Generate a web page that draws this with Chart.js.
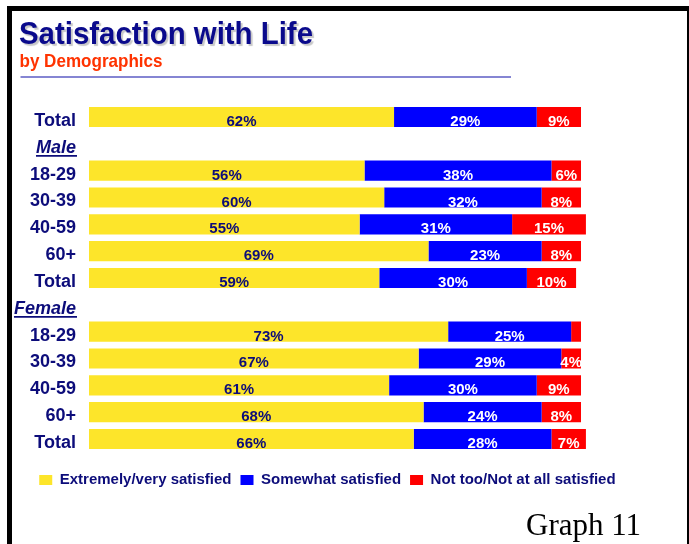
<!DOCTYPE html>
<html>
<head>
<meta charset="utf-8">
<script src="https://cdn.jsdelivr.net/npm/chart.js@4/dist/chart.umd.min.js"></script>
<style>
    html, body { margin: 0; padding: 0; background: #fff; }
    #wrap { position: relative; width: 689px; height: 544px; }
</style>
</head>
<body>
<div id="wrap"><canvas id="lifeChart"></canvas></div>
<script>
// Satisfaction with Life by demographics (percent)
const rowLabels = ['Total', 'Male', '18-29', '30-39', '40-59', '60+', 'Total', 'Female', '18-29', '30-39', '40-59', '60+', 'Total'];
const groupRows = [1, 7];
const verySatisfied = [62, null, 56, 60, 55, 69, 59, null, 73, 67, 61, 68, 66];
const somewhatSatisfied = [29, null, 38, 32, 31, 23, 30, null, 25, 29, 30, 24, 28];
const notSatisfied = [9, null, 6, 8, 15, 8, 10, null, 2, 4, 9, 8, 7];
const seriesNames = ['Extremely/very satisfied', 'Somewhat satisfied', 'Not too/Not at all satisfied'];

const NAVY = '#0c0c7a';
const SANS = "'Liberation Sans', Arial, sans-serif";
Chart.defaults.font.family = SANS;

// frame, heading, rule and footer text
const decorPlugin = {
    id: 'decor',
    beforeDraw(chart) {
        const ctx = chart.ctx;
        ctx.save();
        ctx.fillStyle = '#fff';
        ctx.fillRect(0, 0, chart.width, chart.height);
        ctx.fillStyle = '#000';
        ctx.fillRect(7, 6, 5, chart.height - 6);
        ctx.fillRect(7, 6, chart.width - 7, 5);
        ctx.fillRect(687, 6, 2, chart.height - 6);

        ctx.textAlign = 'left';
        ctx.textBaseline = 'alphabetic';
        ctx.shadowColor = 'rgba(0,0,0,0.22)';
        ctx.shadowOffsetX = 2;
        ctx.shadowOffsetY = 2;
        ctx.shadowBlur = 1;
        ctx.fillStyle = '#0a0a8c';
        ctx.font = 'bold 32px ' + SANS;
        ctx.fillText('Satisfaction with Life', 19, 43.5, 294);
        ctx.shadowColor = 'transparent';
        ctx.fillStyle = '#ff3300';
        ctx.font = 'bold 18.5px ' + SANS;
        ctx.fillText('by Demographics', 19.5, 66.5, 143);

        ctx.strokeStyle = '#8585d3';
        ctx.lineWidth = 2;
        ctx.beginPath();
        ctx.moveTo(20.5, 77);
        ctx.lineTo(511, 77);
        ctx.stroke();

        ctx.fillStyle = '#000';
        ctx.font = "31px 'Liberation Serif', 'Times New Roman', serif";
        ctx.fillText('Graph 11', 526, 535);
        ctx.restore();
    },
    afterDraw(chart) {
        // underline the group headings
        const ctx = chart.ctx;
        const yScale = chart.scales.y;
        ctx.save();
        ctx.font = 'italic bold 18px ' + SANS;
        ctx.strokeStyle = NAVY;
        ctx.lineWidth = 1.6;
        groupRows.forEach(i => {
            const w = ctx.measureText(rowLabels[i]).width;
            const y = yScale.getPixelForTick(i) + 12;
            ctx.beginPath();
            ctx.moveTo(76 - w, y);
            ctx.lineTo(77, y);
            ctx.stroke();
        });
        ctx.restore();
    }
};

// percentage labels in the middle of each segment
const valueLabels = {
    id: 'valueLabels',
    afterDatasetsDraw(chart) {
        const ctx = chart.ctx;
        ctx.save();
        ctx.font = 'bold 15px ' + SANS;
        ctx.textAlign = 'center';
        ctx.textBaseline = 'alphabetic';
        chart.data.datasets.forEach((ds, di) => {
            const meta = chart.getDatasetMeta(di);
            ctx.fillStyle = di === 0 ? NAVY : '#fff';
            meta.data.forEach((bar, i) => {
                const v = ds.data[i];
                if (v == null || v < 3) return;
                const p = bar.getProps(['x', 'y', 'base'], true);
                ctx.fillText(v + '%', (p.x + p.base) / 2, p.y + 9);
            });
        });
        ctx.restore();
    }
};

new Chart(document.getElementById('lifeChart'), {
    type: 'bar',
    data: {
        labels: rowLabels,
        datasets: [
            { label: seriesNames[0], data: verySatisfied, backgroundColor: '#fde52a' },
            { label: seriesNames[1], data: somewhatSatisfied, backgroundColor: '#0000ff' },
            { label: seriesNames[2], data: notSatisfied, backgroundColor: '#ff0000' }
        ]
    },
    options: {
        indexAxis: 'y',
        responsive: true,
        maintainAspectRatio: false,
        animation: false,
        layout: { padding: { top: 103.6, right: 34.2, bottom: 46.6, left: 0 } },
        datasets: { bar: { barPercentage: 0.75, categoryPercentage: 1 } },
        scales: {
            x: {
                stacked: true, min: 0, max: 115,
                grid: { display: false, drawTicks: false },
                border: { display: false },
                ticks: { display: false },
                afterFit: scale => { scale.height = 11; }
            },
            y: {
                stacked: true,
                grid: { display: false, drawTicks: false },
                border: { display: false },
                afterFit: scale => { scale.width = 89; },
                ticks: {
                    color: NAVY,
                    padding: 13,
                    labelOffset: 4,
                    font: c => groupRows.includes(c.index)
                        ? { size: 18, weight: 'bold', style: 'italic' }
                        : { size: 18, weight: 'bold' }
                }
            }
        },
        plugins: {
            legend: {
                position: 'bottom',
                labels: {
                    boxWidth: 13,
                    boxHeight: 10,
                    padding: 9,
                    color: NAVY,
                    font: { size: 15, weight: 'bold' }
                }
            },
            tooltip: { enabled: false }
        }
    },
    plugins: [decorPlugin, valueLabels]
});
</script>
</body>
</html>
